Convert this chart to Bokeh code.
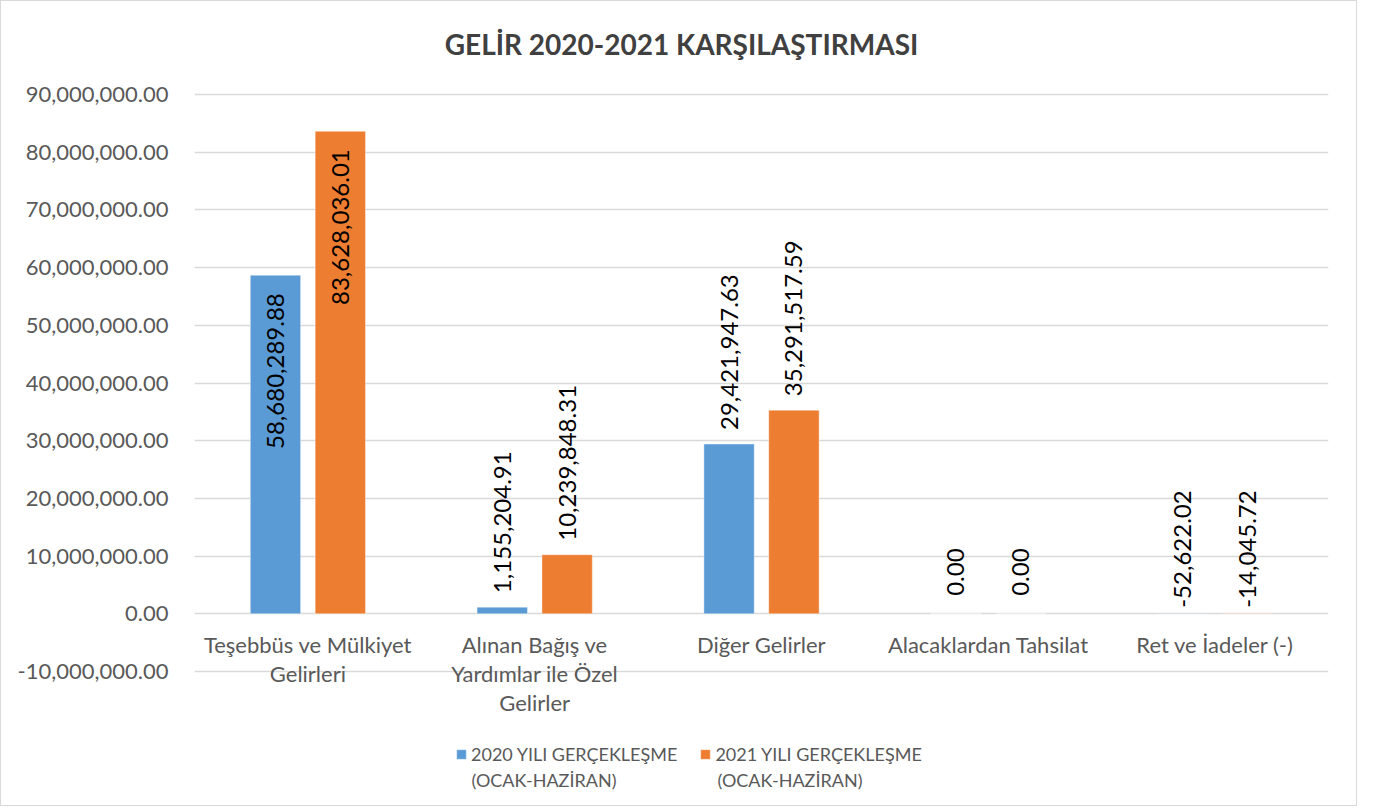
import math
from bokeh.plotting import figure
from bokeh.models import (ColumnDataSource, FactorRange, Range1d, FixedTicker,
                          NumeralTickFormatter, Legend, LegendItem, Label)
from bokeh.core.properties import value
from bokeh.transform import dodge
from bokeh.embed import file_html
from bokeh.resources import INLINE

# ---- data ----
categories = ["Teşebbüs ve Mülkiyet\nGelirleri",
              "Alınan Bağış ve\nYardımlar ile Özel\nGelirler",
              "Diğer Gelirler",
              "Alacaklardan Tahsilat",
              "Ret ve İadeler (-)"]
values_2020 = [58680289.88, 1155204.91, 29421947.63, 0.00, -52622.02]
values_2021 = [83628036.01, 10239848.31, 35291517.59, 0.00, -14045.72]
series_names = ["2020 YILI GERÇEKLEŞME", "2021 YILI GERÇEKLEŞME"]
series_period = ["(OCAK-HAZİRAN)", "(OCAK-HAZİRAN)"]
y_ticks = [-10e6, 0, 10e6, 20e6, 30e6, 40e6, 50e6, 60e6, 70e6, 80e6, 90e6]
title_text = "GELİR 2020-2021 KARŞILAŞTIRMASI"

BLUE = "#5B9BD5"
ORANGE = "#ED7D31"
GRID = "#D9D9D9"
TXT = "#595959"
FONT = "Lato"

# ---- layout (pixels) ----
W_FIG, H_FIG = 1357, 806
LEFT, RIGHT = 193, 30
Y_TOP_PX, Y_BOT_PX = 93, 670          # pixel rows of the 90M and -10M gridlines
ppu = (Y_BOT_PX - Y_TOP_PX) / (y_ticks[-1] - y_ticks[0])
y_end = y_ticks[-1] + Y_TOP_PX / ppu
y_start = y_ticks[0] - (H_FIG - Y_BOT_PX) / ppu

p = figure(width=W_FIG, height=H_FIG, x_range=FactorRange(*categories, range_padding=0),
           y_range=Range1d(y_start, y_end), output_backend="svg", toolbar_location=None,
           x_axis_location=None,
           min_border_left=LEFT, min_border_right=RIGHT, min_border_top=0, min_border_bottom=0)
p.outline_line_color = None
p.styles = {"border": "1px solid #D9D9D9"}


def lbl(v):
    return f"{v:,.2f}"


def make_source(vals):
    tops = [max(v, 0) for v in vals]
    align, off = [], []
    for i, v in enumerate(vals):
        if i == 0:
            align.append("right"); off.append(18)
        elif v > 0:
            align.append("left"); off.append(-14)
        elif v == 0:
            align.append("left"); off.append(-18)
        else:
            align.append("left"); off.append(-6)
    return ColumnDataSource(dict(cat=categories, val=vals, top=tops,
                                 text=[lbl(v) for v in vals], align=align, off=off))


src1 = make_source(values_2020)
src2 = make_source(values_2021)

W = 0.222
D = 0.143
r1 = p.vbar(x=dodge("cat", -D, range=p.x_range), top="val", bottom=0, width=W, source=src1,
            fill_color=BLUE, line_color="white", line_alpha=0.4, line_width=1)
r2 = p.vbar(x=dodge("cat", D, range=p.x_range), top="val", bottom=0, width=W, source=src2,
            fill_color=ORANGE, line_color="white", line_alpha=0.4, line_width=1)

for src, d in ((src1, -D), (src2, D)):
    p.text(x=dodge("cat", d, range=p.x_range), y="top", text="text", source=src,
           angle=math.pi / 2, text_align="align", text_baseline="middle", y_offset="off",
           text_font=value(FONT), text_font_size="24px", text_color="black")

# category labels under the zero line
cat_src = ColumnDataSource(dict(cat=categories, y=[0] * len(categories)))
p.text(x="cat", y="y", text="cat", source=cat_src, y_offset=17,
       text_align="center", text_baseline="top", text_line_height=1.08,
       text_font=value(FONT), text_font_size="22px", text_color=TXT)

# y axis
p.yaxis.ticker = FixedTicker(ticks=y_ticks)
p.yaxis.formatter = NumeralTickFormatter(format="0,0.00")
p.yaxis.axis_line_color = None
p.yaxis.major_tick_line_color = None
p.yaxis.minor_tick_line_color = None
p.yaxis.major_label_standoff = 20
p.yaxis.major_label_text_font = FONT
p.yaxis.major_label_text_font_size = "22px"
p.yaxis.major_label_text_color = TXT

p.xgrid.grid_line_color = None
p.ygrid.grid_line_color = GRID
p.ygrid.grid_line_width = 1.5

# title centred over the whole chart (screen units relative to the frame's bottom-left)
p.add_layout(Label(x=680 - LEFT, y=H_FIG - 42, x_units="screen", y_units="screen",
                   text=title_text, text_align="center", text_baseline="middle",
                   text_font=FONT, text_font_style="bold", text_font_size="28px",
                   text_color="#404040"))

# legend: glyph + first line from the Legend, second line as labels beneath
LEG_X = [454, 700]
legend = Legend(items=[LegendItem(label=series_names[0], renderers=[r1]),
                       LegendItem(label=series_names[1], renderers=[r2])],
                location=(LEG_X[0] - LEFT, H_FIG - 764), orientation="horizontal",
                glyph_width=12, glyph_height=12, label_standoff=4, spacing=22,
                padding=0, margin=0, border_line_color=None, background_fill_alpha=0,
                label_text_font=FONT, label_text_font_size="18px", label_text_color=TXT)
p.add_layout(legend, "center")
for lx, txt in zip(LEG_X, series_period):
    p.add_layout(Label(x=lx + 16 - LEFT, y=H_FIG - 778, x_units="screen", y_units="screen",
                       text=txt, text_align="left", text_baseline="middle",
                       text_font=FONT, text_font_size="18px", text_color=TXT))

open("out.html", "w").write(file_html(p, INLINE))
